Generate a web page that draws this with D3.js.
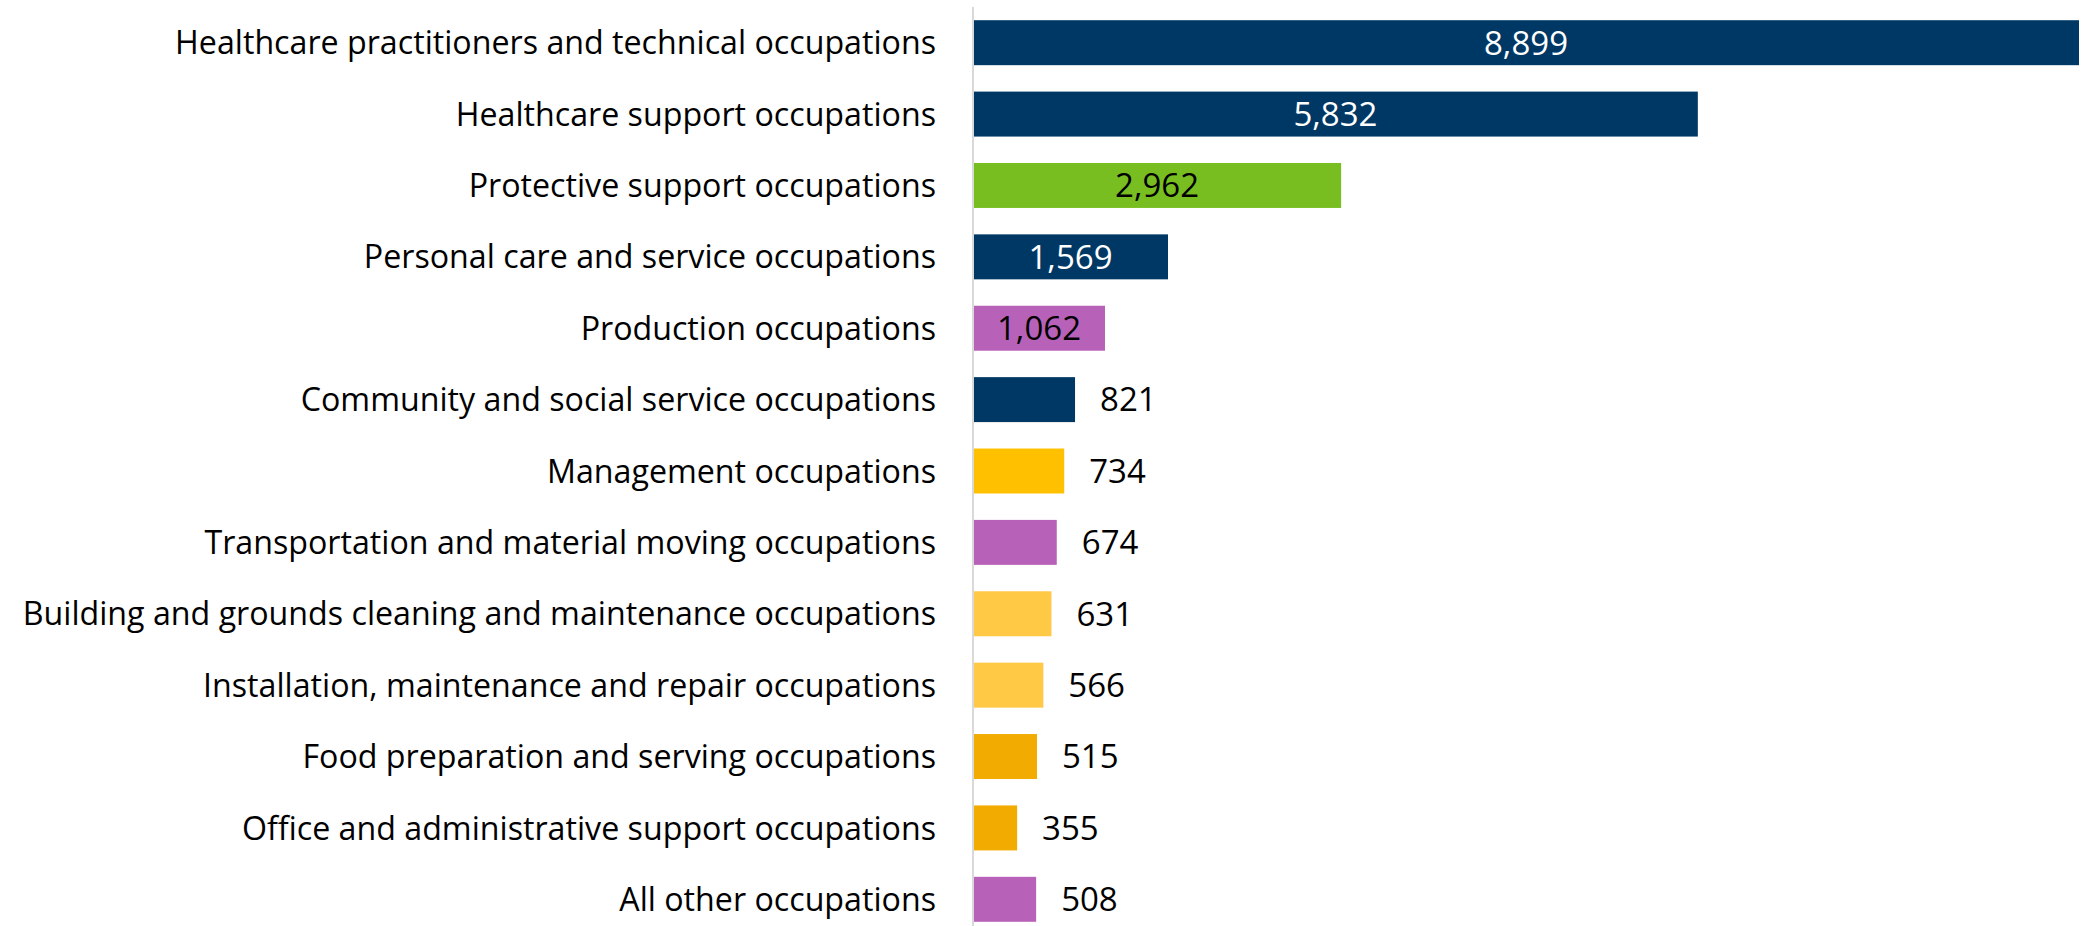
<!DOCTYPE html>
<html>
<head>
<meta charset="utf-8">
<script src="https://cdn.jsdelivr.net/npm/d3@7"></script>
<style>
  body { margin: 0; background: #fff; }
  text { font-family: "Open Sans", Lato, sans-serif; }
</style>
</head>
<body>
<div id="chart"></div>
<script>
var occupations = [
  "Healthcare practitioners and technical occupations",
  "Healthcare support occupations",
  "Protective support occupations",
  "Personal care and service occupations",
  "Production occupations",
  "Community and social service occupations",
  "Management occupations",
  "Transportation and material moving occupations",
  "Building and grounds cleaning and maintenance occupations",
  "Installation, maintenance and repair occupations",
  "Food preparation and serving occupations",
  "Office and administrative support occupations",
  "All other occupations"
];
var counts = [8899, 5832, 2962, 1569, 1062, 821, 734, 674, 631, 566, 515, 355, 508];
var groups = ["health", "health", "protective", "health", "production", "health",
  "management", "production", "building", "building", "food", "food", "production"];

var width = 2081, height = 926;
var axisX = 973;

var svg = d3.select("#chart").append("svg")
    .attr("width", width)
    .attr("height", height);

var colours = d3.scaleOrdinal()
    .domain(["health", "protective", "production", "management", "building", "food"])
    .range(["#003865", "#78BE21", "#B762B8", "#FFC000", "#FFC845", "#F2AB00"]);

var x = d3.scaleLinear().domain([0, d3.max(counts)]).range([axisX, 2079]);
var y = d3.scaleBand().domain(occupations).range([7, 935])
    .paddingInner(0.37).paddingOuter(0.185);

var data = occupations.map(function(d, i) {
  return {name: d, value: counts[i], group: groups[i]};
});

// category labels
svg.append("g")
  .selectAll("text")
    .data(data)
  .enter().append("text")
    .attr("x", 936)
    .attr("y", function(d) { return y(d.name) + y.bandwidth() / 2; })
    .attr("dy", "0.36em")
    .attr("text-anchor", "end")
    .attr("font-size", "32.2px")
    .attr("fill", "#000")
    .text(function(d) { return d.name; });

svg.append("g")
  .selectAll("rect")
    .data(data)
  .enter().append("rect")
    .attr("x", x(0))
    .attr("y", function(d) { return y(d.name); })
    .attr("width", function(d) { return x(d.value) - x(0); })
    .attr("height", y.bandwidth())
    .attr("fill", function(d) { return colours(d.group); });

// axis line
svg.append("line")
    .attr("x1", axisX).attr("x2", axisX)
    .attr("y1", 7).attr("y2", height)
    .attr("stroke", "#d9d9d9")
    .attr("stroke-width", 2);

var fmt = d3.format(",");
svg.append("g")
  .selectAll("text")
    .data(data)
  .enter().append("text")
    .attr("x", function(d) { return d.value > 1000 ? (x(0) + x(d.value)) / 2 : x(d.value) + 25; })
    .attr("y", function(d) { return y(d.name) + y.bandwidth() / 2; })
    .attr("dy", "0.36em")
    .attr("text-anchor", function(d) { return d.value > 1000 ? "middle" : "start"; })
    .attr("font-size", "33px")
    .attr("fill", function(d) { return d.value > 1000 && d.group == "health" ? "#fff" : "#000"; })
    .text(function(d) { return fmt(d.value); });
</script>
</body>
</html>
